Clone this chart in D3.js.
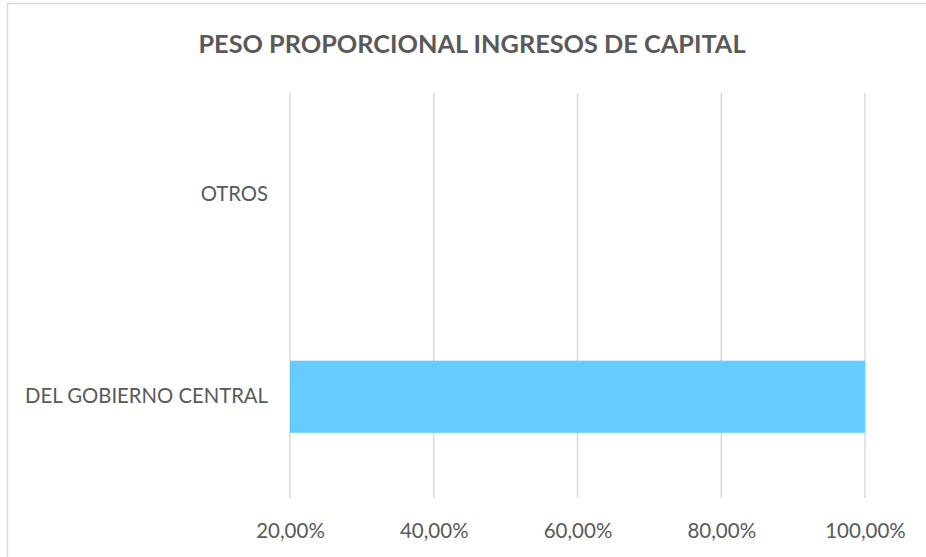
<!DOCTYPE html>
<html>
<head>
<meta charset="utf-8">
<script src="https://cdn.jsdelivr.net/npm/d3@7"></script>
<style>
  body { margin: 0; background: #fff; }
  text { font-family: Lato, "Open Sans", sans-serif; fill: #595959; }
</style>
</head>
<body>
<div id="chart"></div>
<script>
// Data
var categories = ["OTROS", "DEL GOBIERNO CENTRAL"];
var values = [0, 1.0];
var tickValues = [0.2, 0.4, 0.6, 0.8, 1.0];
var title = "PESO PROPORCIONAL INGRESOS DE CAPITAL";

var W = 926, H = 557;
var margin = { top: 93, right: 61, bottom: 59, left: 290 };

var svg = d3.select("#chart")
    .append("svg")
    .attr("width", W)
    .attr("height", H);

// chart frame (cropped on right and bottom)
svg.append("rect")
    .attr("x", 7.5)
    .attr("y", 3.5)
    .attr("width", W + 20)
    .attr("height", H + 20)
    .style("fill", "none")
    .style("stroke", "#d9d9d9")
    .style("stroke-width", 1.5);

var x = d3.scaleLinear()
    .domain([0.2, 1.0])
    .range([margin.left, W - margin.right]);

var y = d3.scaleBand()
    .domain(categories)
    .range([margin.top, H - margin.bottom])
    .paddingInner(0.644)
    .paddingOuter(0.322);

var fmt = function (d) { return d3.format(".2f")(d * 100).replace(".", ",") + "%"; };

// gridlines
svg.append("g")
    .selectAll("line")
    .data(tickValues)
    .enter()
    .append("line")
    .attr("x1", function (d) { return x(d); })
    .attr("x2", function (d) { return x(d); })
    .attr("y1", margin.top)
    .attr("y2", H - margin.bottom)
    .style("stroke", "#d9d9d9")
    .style("stroke-width", 1.5);

// x axis labels
var xAxis = svg.append("g")
    .attr("transform", "translate(0," + (H - margin.bottom) + ")")
    .call(d3.axisBottom(x).tickValues(tickValues).tickFormat(fmt).tickSize(0).tickPadding(25));
xAxis.select(".domain").remove();
xAxis.selectAll("text")
    .style("font-size", "20.5px")
    .style("fill", "#595959");

// y axis labels
var yAxis = svg.append("g")
    .attr("transform", "translate(" + margin.left + ",0)")
    .call(d3.axisLeft(y).tickSize(0).tickPadding(22));
yAxis.select(".domain").remove();
yAxis.selectAll("text")
    .style("font-size", "20.3px")
    .style("fill", "#595959");

// bars
svg.selectAll(".bar")
    .data(categories)
    .enter()
    .append("rect")
    .attr("class", "bar")
    .attr("x", x(0.2))
    .attr("y", function (d) { return y(d); })
    .attr("width", function (d, i) { return Math.max(0, x(Math.max(0.2, values[i])) - x(0.2)); })
    .attr("height", y.bandwidth())
    .style("fill", "#66cbff");

// title
svg.append("text")
    .attr("x", 472)
    .attr("y", 53)
    .attr("text-anchor", "middle")
    .style("font-size", "25.3px")
    .style("font-weight", "bold")
    .text(title);
</script>
</body>
</html>
